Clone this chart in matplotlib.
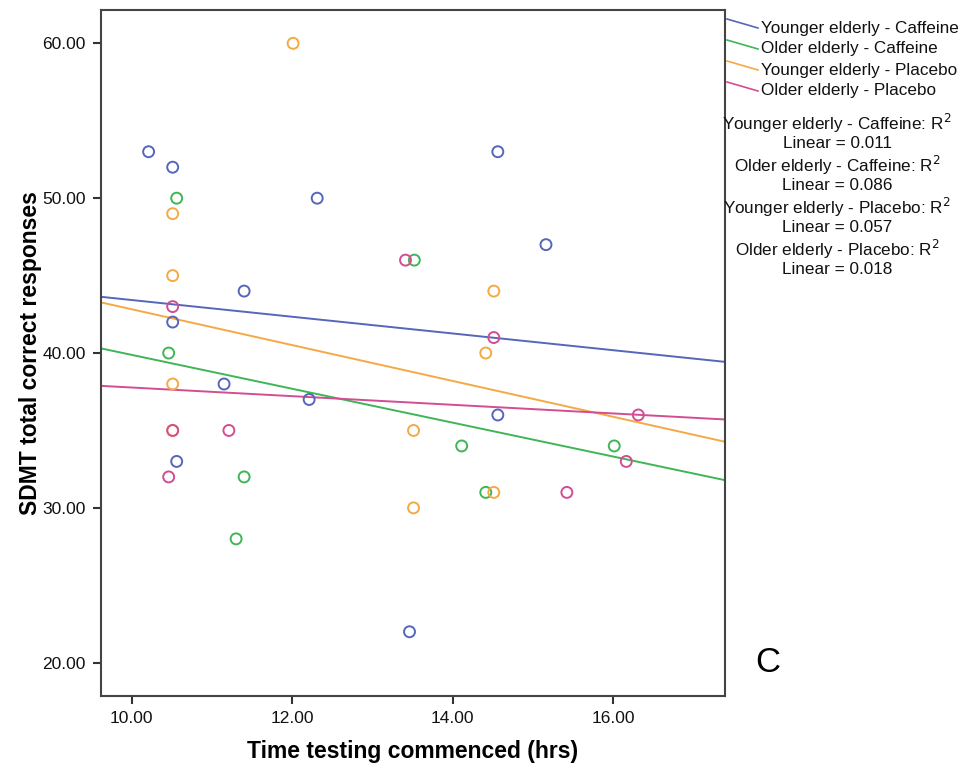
import numpy as np
import matplotlib
matplotlib.use('Agg')
import matplotlib.pyplot as plt
from matplotlib.lines import Line2D

plt.rcParams['font.family'] = ['Liberation Sans', 'DejaVu Sans']

#### DATA ####
groups = ['Younger elderly - Caffeine', 'Older elderly - Caffeine',
          'Younger elderly - Placebo', 'Older elderly - Placebo']
r2_values = ['0.011', '0.086', '0.057', '0.018']

yc_time = [10.21, 10.51, 12.31, 14.56, 15.16, 11.40, 10.51, 11.15, 12.21, 14.56, 10.56, 13.46]
yc_sdmt = [53, 52, 50, 53, 47, 44, 42, 38, 37, 36, 33, 22]

oc_time = [10.56, 13.52, 10.46, 14.11, 16.01, 11.40, 14.41, 11.30]
oc_sdmt = [50, 46, 40, 34, 34, 32, 31, 28]

yp_time = [12.01, 10.51, 10.51, 14.51, 14.41, 10.51, 13.51, 14.51, 13.51, 10.51]
yp_sdmt = [60, 49, 45, 44, 40, 38, 35, 31, 30, 35]

op_time = [13.41, 10.51, 14.51, 16.31, 16.16, 10.51, 11.21, 15.42, 10.46]
op_sdmt = [46, 43, 41, 36, 33, 35, 35, 31, 32]

# fit lines, value at left and right edge of the axes
fit_left = [43.63, 40.30, 43.27, 37.88]
fit_right = [39.43, 31.79, 34.27, 35.71]

xlim = (9.617, 17.39)
ylim = (17.85, 62.15)
xticks = [10, 12, 14, 16]
yticks = [20, 30, 40, 50, 60]

colors = ['#5566bb', '#3fb656', '#f5a944', '#d24d92']

#### PLOT ####
fig = plt.figure(figsize=(9.72, 7.72), dpi=100)
ax = fig.add_axes([0.1039, 0.0984, 0.642, 0.8886])

times = [yc_time, oc_time, yp_time, op_time]
scores = [yc_sdmt, oc_sdmt, yp_sdmt, op_sdmt]

for i in range(4):
    ax.plot(xlim, [fit_left[i], fit_right[i]], color=colors[i], lw=1.4, zorder=2)
for i in range(4):
    ax.scatter(times[i], scores[i], s=62, facecolors='none', edgecolors=colors[i],
               linewidths=1.4, zorder=3)

ax.set_xlim(*xlim)
ax.set_ylim(*ylim)
ax.set_xticks(xticks)
ax.set_yticks(yticks)
ax.set_xticklabels([f'{t:.2f}' for t in xticks])
ax.set_yticklabels([f'{t:.2f}' for t in yticks])
ax.tick_params(direction='out', length=6, width=1.5, color='#333333',
               labelsize=12.5, labelcolor='#111111', pad=5)
for sp in ax.spines.values():
    sp.set_color('#444444')
    sp.set_linewidth(1.5)

ax.set_xlabel('Time testing commenced (hrs)', fontsize=16.5, fontweight='bold')
ax.set_ylabel('SDMT total correct responses', fontsize=16.5, fontweight='bold')
ax.xaxis.set_label_coords(0.5, -0.064)
ax.yaxis.set_label_coords(-0.095, 0.5)

# legend: slanted line stubs from the right axis edge plus labels
for i in range(4):
    y0 = 1 - (19 + i * 21) / 772
    y1 = 1 - (28 + i * 21) / 772
    fig.add_artist(Line2D([727 / 972, 758 / 972], [y0, y1], color=colors[i], lw=1.2))
    fig.text(761 / 972, y1, groups[i], fontsize=12.3, va='center', ha='left', color='#111111')

# R squared block
for i in range(4):
    yy = 123 + i * 42
    fig.text(837 / 972, 1 - yy / 772, groups[i] + ': R$^2$', fontsize=12.3,
             ha='center', va='center', color='#111111')
    fig.text(837 / 972, 1 - (yy + 21) / 772, 'Linear = ' + r2_values[i], fontsize=12.3,
             ha='center', va='center', color='#111111')

fig.text(768 / 972, 1 - 662 / 772, 'C', fontsize=25, ha='center', va='center')

plt.savefig('out.png', dpi=100)
